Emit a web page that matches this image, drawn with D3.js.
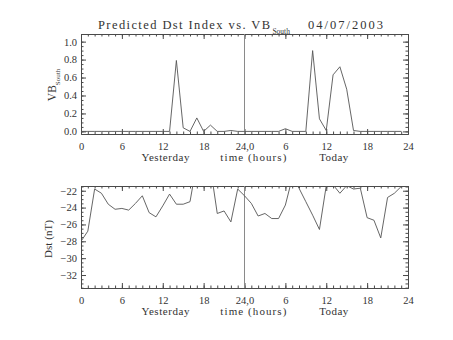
<!DOCTYPE html>
<html><head><meta charset="utf-8">
<script src="https://cdn.jsdelivr.net/npm/d3@7"></script>
<style>
body{margin:0;background:#fff;}
svg text{font-family:"Liberation Serif","DejaVu Serif",serif;fill:#333;}
</style></head>
<body><svg id="c" width="453" height="340"></svg>
<script>
// ---- data ----
const hours = d3.range(0, 48);           // hourly samples: yesterday 0-23, today 24-47
const vbSouth = [0,0,0,0,0,0,0,0,0,0,0,0,0,0,0.79,0.04,0,0.15,0,0.07,0,0,0.01,0,
                 0,0,0,0,0,0,0.03,0,0,0,0.90,0.14,0.01,0.63,0.72,0.47,0.01,0,0,0,0,0,0,0];
const dst = [-28.0,-26.8,-21.8,-22.3,-23.6,-24.2,-24.1,-24.3,-23.5,-22.6,-24.6,-25.1,
             -23.8,-22.4,-23.6,-23.6,-23.3,-18.7,-18.0,-19.2,-24.7,-24.4,-25.7,-21.8,
             -22.6,-23.5,-25.0,-24.7,-25.3,-25.3,-23.7,-20.5,-21.7,-23.3,-24.9,-26.6,
             -21.4,-21.3,-22.3,-21.4,-21.8,-21.7,-25.2,-25.5,-27.6,-22.8,-22.3,-21.5];
const xTicks = [0,6,12,18,24,30,36,42,48];
const xTickLabels = ["0","6","12","18","24,0","6","12","18","24"];
const vbTicks = [0.0,0.2,0.4,0.6,0.8,1.0];
const dstTicks = [-32,-30,-28,-26,-24,-22];
const dayLabels = [{h:12.4,t:"Yesterday"},{h:25.3,t:"time (hours)"},{h:37.1,t:"Today"}];
const titleText = "Predicted Dst Index vs. VB";
const dateText = "04/07/2003";

// ---- drawing ----
const svg = d3.select("#c");
const ink = "#4a4a4a";

function panel(cfg){
  const x = d3.scaleLinear().domain([0,48]).range([cfg.x0,cfg.x1]);
  const y = d3.scaleLinear().domain(cfg.ydom).range([cfg.y1,cfg.y0]);
  const g = svg.append("g");
  const style = sel => { sel.attr("font-family",null);
                         sel.selectAll("path,line").attr("stroke",ink).attr("stroke-width",1); };
  // minor ticks
  g.append("g").attr("transform",`translate(0,${cfg.y1})`)
   .call(d3.axisBottom(x).tickValues(d3.range(0,49)).tickSize(-2.5).tickSizeOuter(0).tickFormat(""))
   .call(style);
  g.append("g").attr("transform",`translate(0,${cfg.y0})`)
   .call(d3.axisTop(x).tickValues(d3.range(0,49)).tickSize(-2.5).tickSizeOuter(0).tickFormat(""))
   .call(style);
  g.append("g").attr("transform",`translate(${cfg.x0},0)`)
   .call(d3.axisLeft(y).tickValues(cfg.minor).tickSize(-2.5).tickSizeOuter(0).tickFormat(""))
   .call(style);
  g.append("g").attr("transform",`translate(${cfg.x1},0)`)
   .call(d3.axisRight(y).tickValues(cfg.minor).tickSize(-2.5).tickSizeOuter(0).tickFormat(""))
   .call(style);
  // major ticks
  g.append("g").attr("transform",`translate(0,${cfg.y1})`)
   .call(d3.axisBottom(x).tickValues(xTicks).tickSize(-5).tickSizeOuter(0).tickPadding(8.5)
         .tickFormat((d,i)=>xTickLabels[i]))
   .call(style);
  g.append("g").attr("transform",`translate(0,${cfg.y0})`)
   .call(d3.axisTop(x).tickValues(xTicks).tickSize(-5).tickSizeOuter(0).tickFormat(""))
   .call(style);
  g.append("g").attr("transform",`translate(${cfg.x0},0)`)
   .call(d3.axisLeft(y).tickValues(cfg.ticks).tickSize(-5).tickSizeOuter(0).tickPadding(4)
         .tickFormat(cfg.fmt))
   .call(style);
  g.append("g").attr("transform",`translate(${cfg.x1},0)`)
   .call(d3.axisRight(y).tickValues(cfg.ticks).tickSize(-5).tickSizeOuter(0).tickFormat(""))
   .call(style);
  g.selectAll(".tick text").attr("font-size",10.5).attr("fill","#333");
  // day labels
  dayLabels.forEach(d=>{
    g.append("text").attr("x",x(d.h)).attr("y",cfg.y1+27).attr("text-anchor","middle")
     .attr("font-size",11).text(d.t)
     .attr("textLength", d.t==="Yesterday"?48:(d.t==="Today"?29:66)).attr("lengthAdjust","spacing");
  });
  // clip
  const cid = "clip"+cfg.id;
  svg.append("defs").append("clipPath").attr("id",cid).append("rect")
    .attr("x",cfg.x0).attr("y",cfg.y0).attr("width",cfg.x1-cfg.x0).attr("height",cfg.y1-cfg.y0);
  // divider at 24h
  g.append("line").attr("x1",x(24)).attr("x2",x(24)).attr("y1",cfg.y0).attr("y2",cfg.y1)
   .attr("stroke","#8a8a8a").attr("stroke-width",1);
  // data line
  g.append("path").datum(cfg.data).attr("clip-path",`url(#${cid})`)
   .attr("fill","none").attr("stroke","#555").attr("stroke-width",0.9)
   .attr("d", d3.line().x((d,i)=>x(hours[i])).y(d=>y(d)));
  return {x,y,g};
}

const p1 = panel({id:1,x0:81,x1:408,y0:34,y1:134,ydom:[-0.029,1.085],data:vbSouth,
  ticks:vbTicks,minor:d3.range(0,21).map(i=>i*0.05),fmt:d3.format(".1f")});
const p2 = panel({id:2,x0:81,x1:408,y0:186,y1:288,ydom:[-33.54,-21.44],data:dst,
  ticks:dstTicks,minor:d3.range(-33.5,-21.4,0.5),fmt:d3.format("d")});

// y-axis titles
const yt1 = svg.append("text").attr("transform","translate(56,85) rotate(-90)")
  .attr("text-anchor","middle").attr("font-size",11.5);
yt1.append("tspan").text("VB");
yt1.append("tspan").attr("font-size",7).attr("dy",4).text("South");
svg.append("text").attr("transform","translate(52,239) rotate(-90)")
  .attr("text-anchor","middle").attr("font-size",11)
  .attr("textLength",38).attr("lengthAdjust","spacing").text("Dst (nT)");

// title
const t = svg.append("text").attr("x",98).attr("y",29).attr("font-size",12.5);
t.append("tspan").attr("textLength",172).attr("lengthAdjust","spacing").text(titleText);
t.append("tspan").attr("font-size",7.5).attr("dy",5).attr("dx",1).text("South");
svg.append("text").attr("x",308).attr("y",29).attr("font-size",12.5)
  .attr("textLength",75).attr("lengthAdjust","spacing").text(dateText);
</script></body></html>
